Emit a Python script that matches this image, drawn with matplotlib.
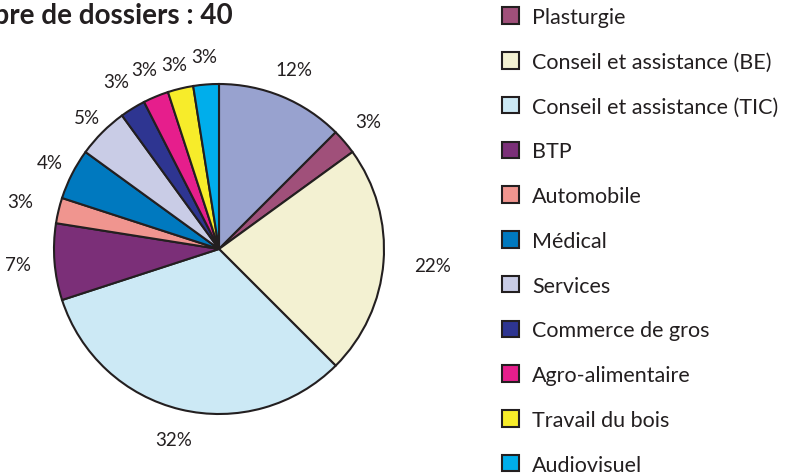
import matplotlib
matplotlib.use("Agg")
import matplotlib.pyplot as plt
import numpy as np

plt.rcParams['font.family'] = ['Lato', 'DejaVu Sans']

# Data
categories = ["", "Plasturgie", "Conseil et assistance (BE)", "Conseil et assistance (TIC)",
              "BTP", "Automobile", "Médical", "Services", "Commerce de gros",
              "Agro-alimentaire", "Travail du bois", "Audiovisuel"]
counts = [5, 1, 9, 13, 3, 1, 2, 2, 1, 1, 1, 1]
pct_labels = ["12%", "3%", "22%", "32%", "7%", "3%", "4%", "5%", "3%", "3%", "3%", "3%"]
colors = ["#98A2CF", "#A0507A", "#F3F1D2", "#CCE9F5", "#7B2F78", "#F0958F",
          "#0079BF", "#C9CCE6", "#2E3591", "#E61E8C", "#F7EC2A", "#00AEEB"]
title = "Nombre de dossiers : 40"

W, H = 791, 477
fig = plt.figure(figsize=(W / 100, H / 100), dpi=100)
cx, cy, r = 219, 250, 165
ax = fig.add_axes([(cx - r) / W, (H - cy - r) / H, 2 * r / W, 2 * r / H])

wedges, _ = ax.pie(counts, colors=colors, startangle=90, counterclock=False,
                   wedgeprops=dict(edgecolor="#231F20", linewidth=1.5))
ax.set_xlim(-1, 1)
ax.set_ylim(-1, 1)
ax.set_aspect("equal")
ax.axis("off")

dist = [1.18, 1.19, 1.3, 1.19, 1.22, 1.24, 1.15, 1.13, 1.19, 1.18, 1.15, 1.17]
for w, lab, d in zip(wedges, pct_labels, dist):
    ang = np.deg2rad((w.theta1 + w.theta2) / 2)
    ax.text(d * np.cos(ang), d * np.sin(ang), lab, ha="center", va="center",
            fontsize=13.5, color="#231F20", clip_on=False)

fig.text(233 / W, 1 - 24 / H, title, ha="right", va="baseline",
         fontsize=20, fontweight="bold", color="#231F20")

leg = fig.legend(wedges[1:], categories[1:], loc="upper left",
                 bbox_to_anchor=(502 / W, 1 - 8 / H), frameon=False,
                 fontsize=15.5, handlelength=0.8, handleheight=0.8,
                 labelspacing=1.15, handletextpad=0.6, borderpad=0, borderaxespad=0)
for t in leg.get_texts():
    t.set_color("#231F20")

fig.savefig("out.png", dpi=100)
